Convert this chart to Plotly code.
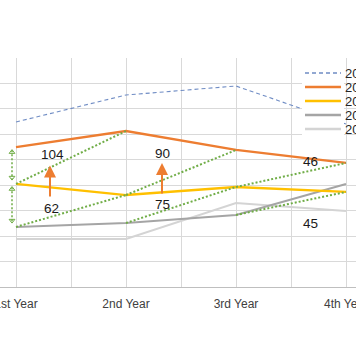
import plotly.graph_objects as go

# ---------------- data ----------------
categories = ["1st Year", "2nd Year", "3rd Year", "4th Year"]
series_names = ["2019", "2020", "2021", "2022", "2023"]
s_dashed = [129.7, 150.9, 158.0, 128.1]
s_orange = [110.0, 122.6, 107.7, 97.5]
s_yellow = [81.0, 72.3, 78.6, 74.7]
s_gray = [47.2, 50.3, 56.6, 81.0]
s_light = [37.7, 37.7, 66.0, 59.7]

label_texts = ["104", "62", "90", "75", "46", "45"]

# ---------------- styles / geometry ----------------
W, H = 356, 364
TOP, BOTTOM = 58, 287          # plot area in pixels
PX_FIRST, PX_STEP = 16, 110    # pixel of first category and step per category
Y_MAX = 180

colors = ["#6F8CC4", "#ED7D31", "#FFC000", "#A5A5A5", "#D4D4D4"]
widths = [1.1, 2.3, 2.3, 2.0, 2.0]
dashes = ["4px,3px", "solid", "solid", "solid", "solid"]
GREEN = "#70AD47"

x_idx = [i + 1 for i in range(len(categories))]
x_lo = 1 - PX_FIRST / PX_STEP
x_hi = 1 + (W - PX_FIRST) / PX_STEP


def px_x(px):
    return 1 + (px - PX_FIRST) / PX_STEP


def paper_x(px):
    return px / W


def paper_y(py):
    return (BOTTOM - py) / (BOTTOM - TOP)


fig = go.Figure()

all_series = [s_dashed, s_orange, s_yellow, s_gray, s_light]
draw_order = [4, 3, 2, 0, 1]

# green dotted connectors: yellow(i)->orange(i+1), gray(i)->yellow(i+1)
gx, gy = [], []
for i in range(len(categories) - 1):
    gx += [x_idx[i], x_idx[i + 1], None]
    gy += [s_yellow[i], s_orange[i + 1], None]
    gx += [x_idx[i], x_idx[i + 1], None]
    gy += [s_gray[i], s_yellow[i + 1], None]

for k in draw_order:
    fig.add_trace(go.Scatter(
        x=x_idx, y=all_series[k], mode="lines", name=series_names[k],
        line=dict(color=colors[k], width=widths[k], dash=dashes[k]),
        showlegend=False, hoverinfo="skip"))

fig.add_trace(go.Scatter(x=gx, y=gy, mode="lines",
                         line=dict(color=GREEN, width=2, dash="2px,2px"),
                         showlegend=False, hoverinfo="skip"))

# vertical green dotted double arrows at first category
ax_x = px_x(12)
pairs = [(s_orange[0], s_yellow[0]), (s_yellow[0], s_gray[0])]
for top_v, bot_v in pairs:
    t = top_v - 2.5
    b = bot_v + 3.5
    fig.add_trace(go.Scatter(x=[ax_x, ax_x], y=[t, b], mode="lines",
                             line=dict(color=GREEN, width=1.5, dash="2px,2px"),
                             showlegend=False, hoverinfo="skip"))
    fig.add_trace(go.Scatter(x=[ax_x, ax_x], y=[t - 1.5, b + 1.5], mode="markers",
                             marker=dict(symbol=["triangle-up-open", "triangle-down-open"],
                                         size=5, color=GREEN,
                                         line=dict(color=GREEN, width=1)),
                             showlegend=False, hoverinfo="skip"))

annotations = []
# orange arrows
for (xp, y0, y1) in [(50, 70.0, 95.5), (162, 72.3, 97.5)]:
    annotations.append(dict(x=px_x(xp), y=y1, ax=px_x(xp), ay=y0,
                            xref="x", yref="y", axref="x", ayref="y",
                            text="", showarrow=True, arrowhead=2, arrowsize=1.2,
                            arrowwidth=2, arrowcolor="#ED7D31"))

label_pos = [(52, 104.5), (51, 62.0), (162, 105.3), (162, 65.2), (310, 99.0), (310, 50.3)]
for txt, (xp, yv) in zip(label_texts, label_pos):
    annotations.append(dict(x=px_x(xp), y=yv, xref="x", yref="y", text=txt,
                            showarrow=False,
                            font=dict(family="Liberation Sans, Arial", size=13.5,
                                      color="#1a1a1a")))

# custom legend
shapes = [dict(type="rect", xref="paper", yref="paper",
               x0=paper_x(302), x1=paper_x(344), y0=paper_y(136), y1=paper_y(64),
               fillcolor="white", line=dict(width=0), layer="above")]
for k, name in enumerate(series_names):
    py = 73 + 14 * k
    shapes.append(dict(type="line", xref="paper", yref="paper",
                       x0=paper_x(305), x1=paper_x(341), y0=paper_y(py), y1=paper_y(py),
                       line=dict(color=colors[k], width=1.3 if k == 0 else 2.3,
                                 dash=dashes[k]),
                       layer="above"))
    annotations.append(dict(x=paper_x(343), y=paper_y(py), xref="paper", yref="paper",
                            text=name, showarrow=False, xanchor="left", yanchor="middle",
                            font=dict(family="Liberation Sans, Arial", size=13,
                                      color="#262626")))

tickvals = [1 + 0.5 * j for j in range(2 * len(categories) - 1)]
ticktext = [categories[j // 2] if j % 2 == 0 else "" for j in range(len(tickvals))]

fig.update_layout(
    width=W, height=H,
    margin=dict(l=0, r=0, t=TOP, b=H - BOTTOM, pad=0),
    paper_bgcolor="white", plot_bgcolor="white",
    showlegend=False,
    xaxis=dict(range=[x_lo, x_hi], tickvals=tickvals, ticktext=ticktext,
               showgrid=True, gridcolor="#D9D9D9", gridwidth=1,
               showline=True, linecolor="#BFBFBF", linewidth=1,
               ticks="", zeroline=False, automargin=False,
               ticklabelstandoff=6, ticklabeloverflow="allow",
               tickfont=dict(family="Liberation Sans, Arial", size=12, color="#404040")),
    yaxis=dict(range=[0, Y_MAX], dtick=20, showgrid=True, gridcolor="#D9D9D9",
               gridwidth=1, showticklabels=False, zeroline=False, ticks="",
               automargin=False),
    annotations=annotations,
    shapes=shapes,
)

fig.write_html("out.html",
               config={"displayModeBar": False, "staticPlot": True},
               post_script="document.body.style.margin='0px';"
                           "document.body.style.padding='0px';")
